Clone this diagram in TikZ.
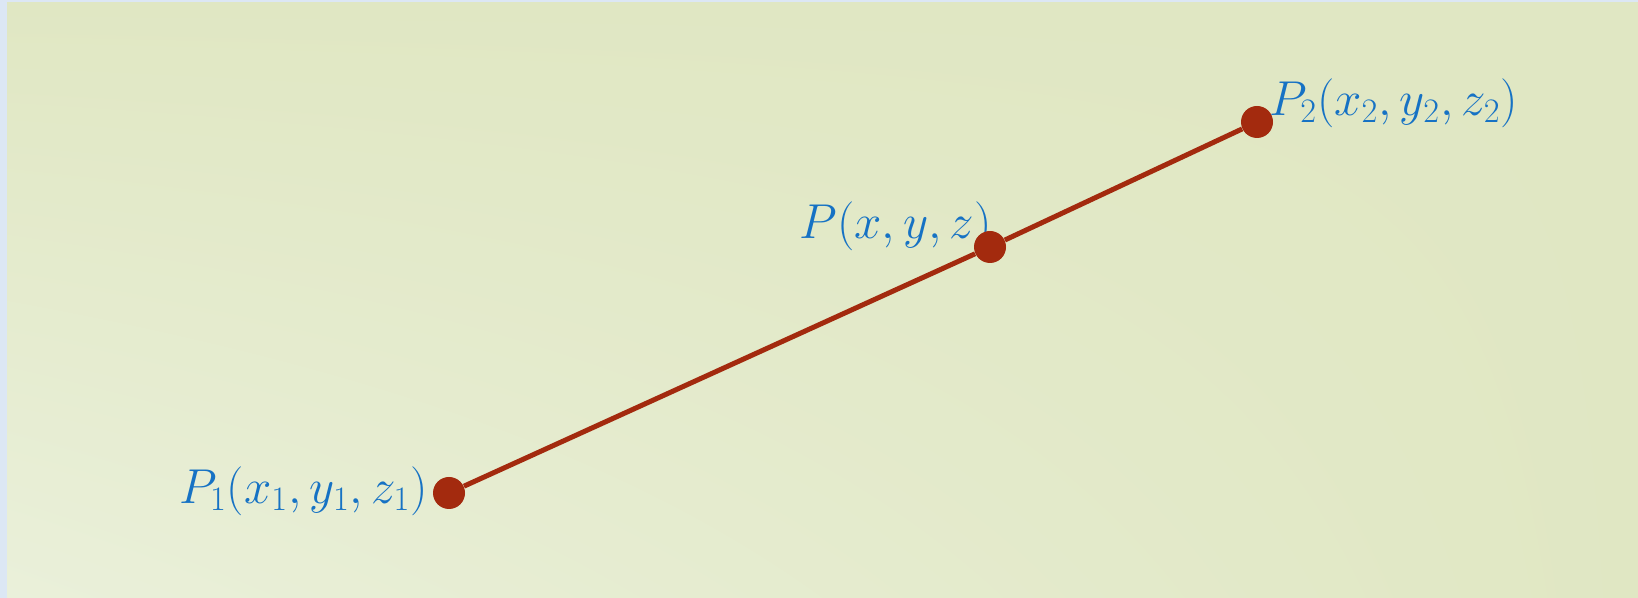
\documentclass[tikz,border=0pt]{standalone}
\usepackage{fix-cm}
\usepackage{xcolor}
\usepackage{tikz}
\usetikzlibrary{positioning, shadings}

\definecolor{bordblue}{HTML}{DCE7F4}
\definecolor{bgdark}{HTML}{E0E7C3}
\definecolor{bglight}{HTML}{EAF0DA}
\definecolor{dotred}{HTML}{A32A0E}
\definecolor{lblblue}{HTML}{1672C4}

\begin{document}
\begin{tikzpicture}[
    x=0.5pt, y=0.5pt,
    dot/.style={circle, fill=dotred, inner sep=0pt, minimum size=16pt},
    lbl/.style={text=lblblue, inner sep=0pt, font=\fontsize{24.5}{28}\selectfont},
    seg/.style={draw=dotred, line width=2.5pt}
]
    \useasboundingbox (0,0) rectangle (1638,598);
    % background panel
    \fill[bordblue] (0,0) rectangle (1638,598);
    \shade[lower left=bglight, lower right=bgdark, upper left=bgdark, upper right=bgdark] (7,0) rectangle (1638,595);

    \coordinate (c1) at (449,105);
    \coordinate (c) at (990,351);
    \coordinate (c2) at (1257,476);

    \node [lbl, left=10.5pt of c1, yshift=1pt] (p1lbl) {$P_1(x_1, y_1, z_1)$};
    \node [lbl, above left=-2pt and -1pt of c] (plbl) {$P(x, y,z)$};
    \node [lbl, above right=-3pt and 6pt of c2] (p2lbl) {$P_2(x_2, y_2, z_2)$};

    \node [dot] (p1) at (c1) {};
    \node [dot] (p) at (c) {};
    \node [dot] (p2) at (c2) {};

    \draw [seg] (p1) -- (p) -- (p2);
\end{tikzpicture}
\end{document}
